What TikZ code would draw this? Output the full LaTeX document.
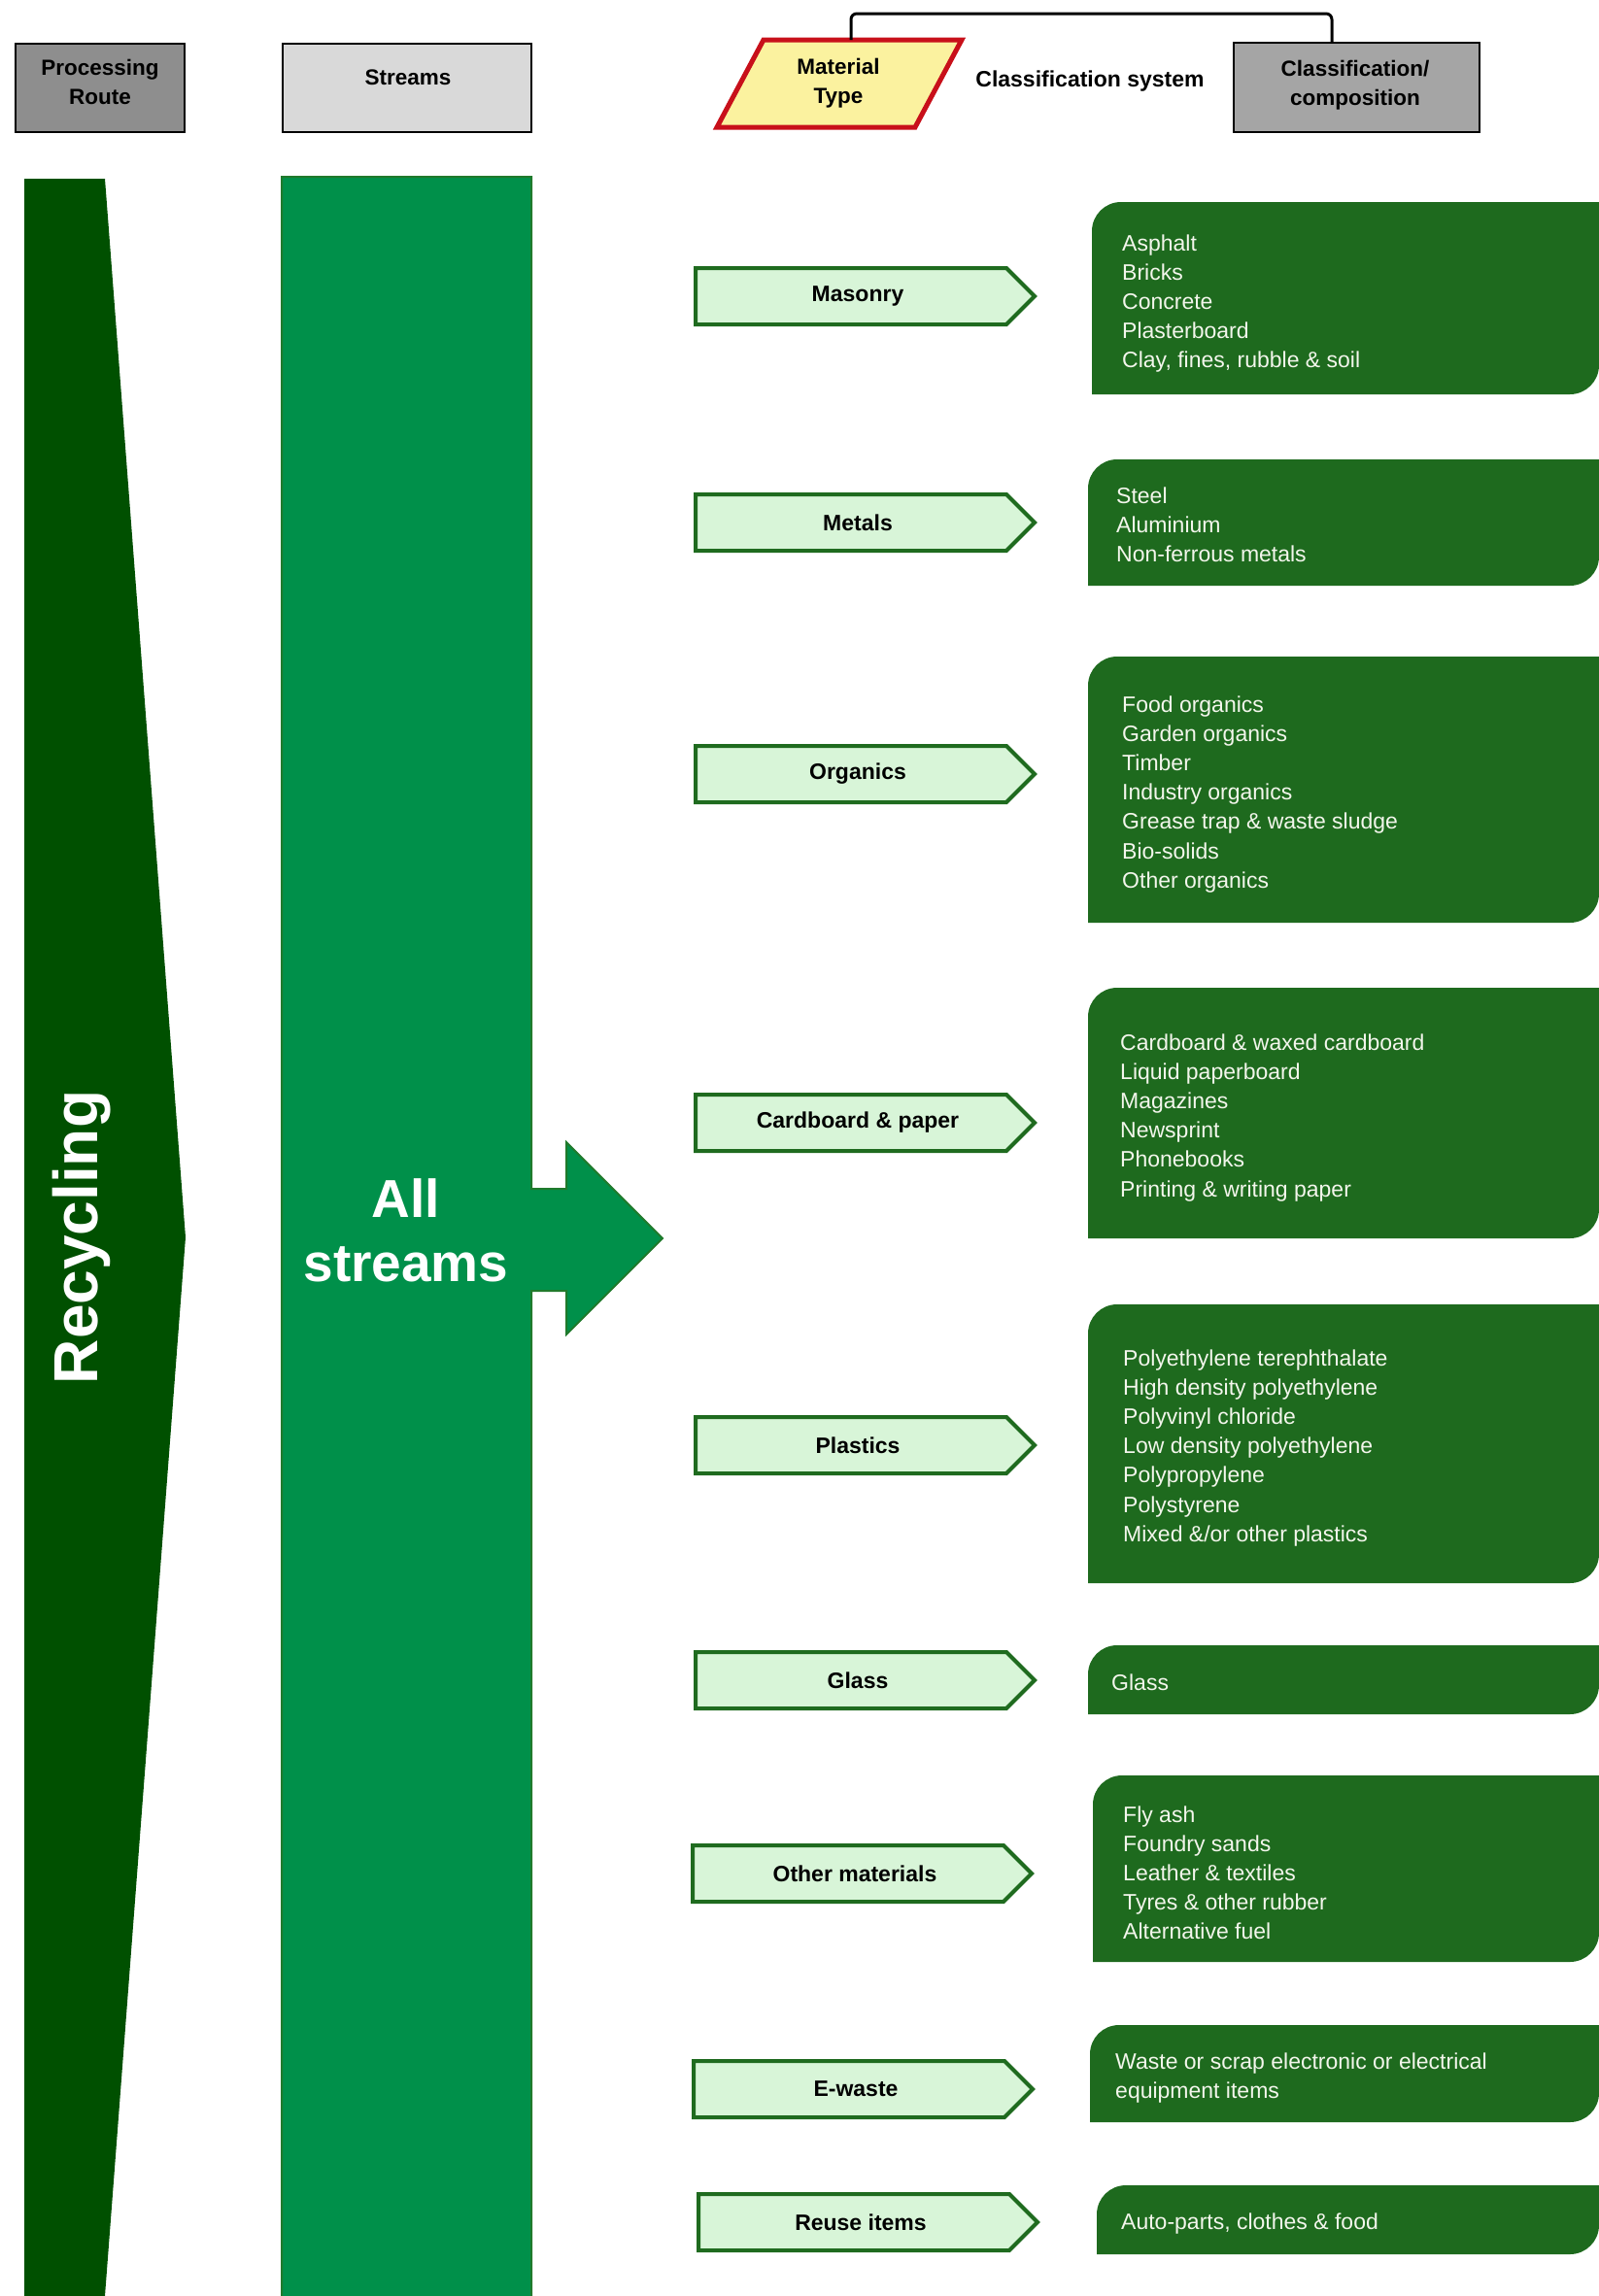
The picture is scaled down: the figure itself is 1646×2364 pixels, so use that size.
\documentclass[tikz,border=0pt]{standalone}
\usepackage{fontspec}
\setmainfont{Liberation Sans}

\definecolor{routegray}{HTML}{8E8E8E}
\definecolor{streamgray}{HTML}{D9D9D9}
\definecolor{clsgray}{HTML}{A5A5A5}
\definecolor{mtyellow}{HTML}{FBF29F}
\definecolor{mtred}{HTML}{C8101A}
\definecolor{recgreen}{HTML}{005000}
\definecolor{streamgreen}{HTML}{00904A}
\definecolor{streamedge}{HTML}{207A2C}
\definecolor{boxgreen}{HTML}{1E6A1E}
\definecolor{matfill}{HTML}{D8F5D8}
\definecolor{matedge}{HTML}{1F6B1F}
\definecolor{itemtext}{HTML}{F3F6EC}

\tikzset{
  hdrbox/.style={draw=black, line width=2.5pt, inner sep=0pt},
  hdrtxt/.style={inner sep=0pt, align=center, font=\fontsize{22.5}{30}\selectfont\bfseries},
  matshape/.style={draw=matedge, fill=matfill, line width=4pt, line join=miter},
  matlbl/.style={inner sep=0pt, font=\fontsize{23}{28}\selectfont\bfseries},
  items/.style={inner sep=0pt, anchor=north west, align=left, text=itemtext,
    font=\fontsize{23}{30.15}\selectfont},
  bracket/.style={draw=black, line width=3pt, rounded corners=6pt},
}

% light green signpost carrying a material type; #1 name, #2 left x, #3 centre y, #4 label
\newcommand\mattag[4]{%
  \draw[matshape] (#2+2,#3-29) -- (#2+322,#3-29) -- (#2+351,#3) -- (#2+322,#3+29) -- (#2+2,#3+29) -- cycle;
  \node[matlbl] (#1) at (#2+169,#3) {#4};}

% dark green panel running to the right edge; #1 name, #2 left, #3 top, #4 bottom
\newcommand\catbox[4]{%
  \fill[boxgreen] (#2,#4) -- (#2,#3+30) .. controls (#2,#3+13.4) and (#2+13.4,#3) .. (#2+30,#3)
    -- (1646,#3) -- (1646,#4-30) .. controls (1646,#4-13.4) and (1632.6,#4) .. (1616,#4) -- cycle;
  \coordinate (#1) at (#2,#3);}

\begin{document}
\begin{tikzpicture}[x=1pt,y=-1pt]
\useasboundingbox[fill=white] (0,0) rectangle (1646,2364);

% ---- column headers
\node[hdrbox, fill=routegray, minimum width=174pt, minimum height=91pt] (route) at (103,90.5) {};
\node[hdrtxt] (routeTxt) at (103,86) {\strut Processing\\\strut Route};
\node[hdrbox, fill=streamgray, minimum width=256pt, minimum height=91pt] (streams) at (419,90.5) {};
\node[hdrtxt] (streamsTxt) at (420,80) {Streams};

\draw[draw=mtred, fill=mtyellow, line width=5pt] (786,41) -- (990,41) -- (942,131) -- (738,131) -- cycle;
\coordinate (mtTop) at (876,41);
\node[hdrtxt] (mtTxt) at (863,85) {\strut Material\\\strut Type};

\node[hdrbox, fill=clsgray, minimum width=253pt, minimum height=92pt] (cls) at (1396.5,90) {};
\node[hdrtxt] (clsTxt) at (1395,87) {\strut Classification/\\\strut composition};
\node[hdrtxt, font=\fontsize{23}{28}\selectfont\bfseries] (clsSystem) at (1122,84) {Classification system};

\coordinate (brk) at (1371,14);
\coordinate (clsTop) at (1371,44);
\draw[bracket] (mtTop) |- (brk) -- (clsTop);

% ---- processing route band
\fill[recgreen] (25,184) -- (108,184) -- (191,1274) -- (108,2364) -- (25,2364) -- cycle;
\node[rotate=90, inner sep=0pt, text=white, font=\fontsize{64}{70}\selectfont\bfseries] (recycling) at (84,1274) {Recycling};

% ---- all streams column with its arrow
\draw[draw=streamedge, fill=streamgreen, line width=2pt, line join=miter]
  (290,182) -- (547,182) -- (547,1224) -- (583,1224) -- (583,1176) -- (682,1275)
  -- (583,1374) -- (583,1329) -- (547,1329) -- (547,2368) -- (290,2368) -- cycle;
\node[inner sep=0pt, align=center, text=white, font=\fontsize{55}{66}\selectfont\bfseries] (allstreams) at (418,1273) {\strut All\\\strut streams};

% ---- material types
\mattag{masonry}{714}{305}{Masonry}
\mattag{metals}{714}{538}{Metals}
\mattag{organics}{714}{797}{Organics}
\mattag{paper}{714}{1156}{Cardboard \& paper}
\mattag{plastics}{714}{1488}{Plastics}
\mattag{glass}{714}{1730}{Glass}
\mattag{other}{711}{1929}{Other materials}
\mattag{ewaste}{712}{2151}{E-waste}
\mattag{reuse}{717}{2288}{Reuse items}

% ---- classification / composition panels
\catbox{boxMasonry}{1124}{208}{406}
\node[items] (listMasonry) at (1155,237) {\strut Asphalt\\Bricks\\Concrete\\Plasterboard\\Clay, fines, rubble \& soil};

\catbox{boxMetals}{1120}{473}{603}
\node[items] (listMetals) at (1149,497) {\strut Steel\\Aluminium\\Non-ferrous metals};

\catbox{boxOrganics}{1120}{676}{950}
\node[items] (listOrganics) at (1155,712) {\strut Food organics\\Garden organics\\Timber\\Industry organics\\Grease trap \& waste sludge\\Bio-solids\\Other organics};

\catbox{boxPaper}{1120}{1017}{1275}
\node[items] (listPaper) at (1153,1060) {\strut Cardboard \& waxed cardboard\\Liquid paperboard\\Magazines\\Newsprint\\Phonebooks\\Printing \& writing paper};

\catbox{boxPlastics}{1120}{1343}{1630}
\node[items] (listPlastics) at (1156,1385) {\strut Polyethylene terephthalate\\High density polyethylene\\Polyvinyl chloride\\Low density polyethylene\\Polypropylene\\Polystyrene\\Mixed \&/or other plastics};

\catbox{boxGlass}{1120}{1694}{1765}
\node[items] (listGlass) at (1144,1719) {\strut Glass};

\catbox{boxOther}{1125}{1828}{2020}
\node[items] (listOther) at (1156,1855) {\strut Fly ash\\Foundry sands\\Leather \& textiles\\Tyres \& other rubber\\Alternative fuel};

\catbox{boxEwaste}{1122}{2085}{2185}
\node[items] (listEwaste) at (1148,2109) {\strut Waste or scrap electronic or electrical\\equipment items};

\catbox{boxReuse}{1129}{2250}{2321}
\node[items] (listReuse) at (1154,2274) {\strut Auto-parts, clothes \& food};
\end{tikzpicture}
\end{document}
